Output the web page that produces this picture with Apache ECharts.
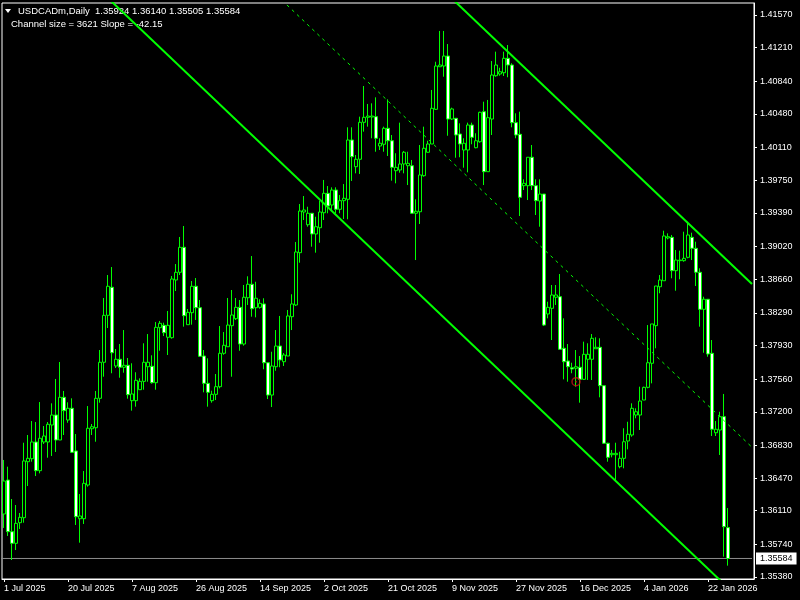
<!DOCTYPE html>
<html><head><meta charset="utf-8">
<script src="https://cdn.jsdelivr.net/npm/echarts@6/dist/echarts.min.js"></script>
<style>html,body{margin:0;padding:0;background:#000;}#c{width:800px;height:600px;}</style>
</head><body><div id="c"></div>
<script>
const opens = [1.36074,1.36448,1.35879,1.35751,1.35978,1.36033,1.36650,1.36683,1.36867,1.36551,1.36867,1.36867,1.37054,1.37164,1.36889,1.37359,1.37109,1.37238,1.36768,1.36022,1.36022,1.36393,1.37013,1.37024,1.37348,1.37745,1.38262,1.38571,1.37704,1.37778,1.37690,1.37712,1.37322,1.37322,1.37443,1.37535,1.37696,1.37701,1.37520,1.38126,1.38152,1.38020,1.38016,1.38651,1.38736,1.39011,1.38159,1.38291,1.38582,1.38346,1.37814,1.37513,1.37322,1.37392,1.37476,1.37844,1.37916,1.38148,1.38225,1.38350,1.37946,1.38456,1.38604,1.38346,1.38350,1.38387,1.37740,1.37384,1.37696,1.37924,1.37751,1.37814,1.38247,1.38376,1.38952,1.39400,1.39260,1.39386,1.39158,1.39227,1.39392,1.39606,1.39477,1.39642,1.39430,1.39525,1.39540,1.40193,1.39899,1.39981,1.40388,1.40443,1.40446,1.40450,1.40127,1.40146,1.40322,1.40185,1.39855,1.39863,1.39929,1.39910,1.39910,1.39386,1.39403,1.39800,1.40058,1.40149,1.40531,1.41000,1.41008,1.41118,1.40424,1.40432,1.40259,1.40083,1.40083,1.40358,1.40108,1.40174,1.40505,1.39844,1.40424,1.40901,1.40920,1.40934,1.41093,1.41019,1.40384,1.40256,1.39690,1.39690,1.40003,1.39690,1.39521,1.39598,1.38277,1.38339,1.38461,1.38467,1.37899,1.37759,1.37685,1.37679,1.37690,1.37557,1.37778,1.37778,1.37894,1.37910,1.37487,1.36853,1.36727,1.36727,1.36595,1.36687,1.36878,1.36944,1.37164,1.37164,1.37329,1.37469,1.37734,1.38148,1.38577,1.38643,1.39114,1.39121,1.38754,1.38864,1.38864,1.38901,1.39121,1.39000,1.38736,1.38328,1.38439,1.37844,1.36969,1.36999,1.37146,1.35924];
const highs = [1.36669,1.36595,1.36239,1.36173,1.36085,1.36859,1.36944,1.37098,1.37087,1.37307,1.37043,1.37087,1.37293,1.37561,1.37748,1.37429,1.37304,1.37348,1.36955,1.36294,1.36547,1.37263,1.37065,1.37429,1.37880,1.38453,1.38706,1.38794,1.37891,1.37946,1.38100,1.37792,1.37734,1.37635,1.37568,1.37954,1.38056,1.37822,1.38189,1.38200,1.38181,1.38310,1.38695,1.38827,1.39125,1.39246,1.38332,1.38640,1.38673,1.38431,1.37880,1.37789,1.37432,1.37616,1.38144,1.38078,1.38453,1.38541,1.38453,1.38431,1.38596,1.38692,1.38915,1.38632,1.38439,1.38450,1.37740,1.37861,1.38100,1.38255,1.37847,1.38321,1.38494,1.39070,1.39488,1.39576,1.39458,1.39386,1.39348,1.39525,1.39753,1.39686,1.39672,1.39672,1.39587,1.39708,1.40333,1.40333,1.40028,1.40450,1.40788,1.40590,1.40597,1.40663,1.40212,1.40340,1.40641,1.40248,1.40047,1.40384,1.40072,1.40064,1.39973,1.39540,1.40138,1.40340,1.40185,1.40744,1.41055,1.41394,1.41394,1.41250,1.40549,1.40432,1.40377,1.40212,1.40384,1.40384,1.40267,1.40505,1.40615,1.40634,1.41063,1.41166,1.40989,1.41166,1.41239,1.41038,1.40487,1.40505,1.39760,1.40003,1.40138,1.39760,1.39760,1.39598,1.38412,1.38596,1.38596,1.38717,1.38229,1.37946,1.37740,1.37880,1.37814,1.37972,1.37954,1.38056,1.38020,1.38009,1.37487,1.36859,1.36779,1.36859,1.36760,1.37018,1.37090,1.37293,1.37238,1.37476,1.37476,1.38155,1.38167,1.38585,1.38706,1.39194,1.39165,1.39147,1.38982,1.38974,1.39183,1.39293,1.39172,1.39073,1.38780,1.38467,1.38439,1.37990,1.37098,1.37200,1.37396,1.36140];
const lows = [1.35920,1.35832,1.35567,1.35677,1.35909,1.35978,1.36382,1.36650,1.36492,1.36522,1.36845,1.36694,1.36713,1.36757,1.36889,1.36944,1.37079,1.36746,1.35953,1.35758,1.35964,1.36375,1.36944,1.36870,1.37300,1.37586,1.38122,1.37624,1.37682,1.37575,1.37630,1.37344,1.37212,1.37256,1.37443,1.37443,1.37531,1.37509,1.37443,1.37872,1.38034,1.37825,1.38005,1.38530,1.38706,1.38137,1.38159,1.38159,1.38211,1.37803,1.37414,1.37256,1.37300,1.37329,1.37458,1.37828,1.37916,1.37586,1.38211,1.37872,1.37928,1.38376,1.38247,1.38240,1.38335,1.37668,1.37340,1.37252,1.37652,1.37690,1.37704,1.37814,1.38100,1.38365,1.38842,1.39312,1.39238,1.39018,1.38952,1.39062,1.39312,1.39386,1.39422,1.39386,1.39386,1.39323,1.39320,1.39742,1.39826,1.39819,1.40285,1.40340,1.40212,1.40064,1.40083,1.40064,1.40017,1.39745,1.39716,1.39833,1.39826,1.39697,1.39378,1.38871,1.39268,1.39789,1.40053,1.40149,1.40524,1.41000,1.40890,1.40240,1.40413,1.39998,1.40003,1.39888,1.39837,1.40146,1.40102,1.40163,1.39697,1.39844,1.40248,1.40890,1.40901,1.40898,1.40884,1.40333,1.40212,1.39356,1.39642,1.39532,1.39642,1.39367,1.39238,1.38144,1.38229,1.37990,1.38376,1.37888,1.37557,1.37531,1.37624,1.37476,1.37300,1.37550,1.37550,1.37550,1.37894,1.37359,1.36845,1.36650,1.36698,1.36430,1.36577,1.36577,1.36786,1.36925,1.37128,1.36999,1.37329,1.37458,1.37513,1.37899,1.38505,1.38643,1.39099,1.38670,1.38533,1.38659,1.38853,1.38890,1.38871,1.38585,1.38137,1.37850,1.37806,1.36933,1.36933,1.36724,1.35604,1.35505];
const closes = [1.36437,1.35879,1.35751,1.35971,1.36037,1.36658,1.36687,1.36867,1.36551,1.36908,1.36933,1.37062,1.37164,1.36889,1.37359,1.37212,1.37238,1.36753,1.36044,1.36052,1.36412,1.37018,1.37035,1.37348,1.37745,1.38262,1.38582,1.37850,1.37778,1.37690,1.37712,1.37388,1.37396,1.37546,1.37535,1.37745,1.37745,1.37520,1.38130,1.38174,1.38071,1.38152,1.38662,1.38736,1.39011,1.38258,1.38295,1.38582,1.38346,1.37811,1.37513,1.37414,1.37392,1.37476,1.37844,1.37932,1.38155,1.38266,1.38350,1.37946,1.38461,1.38604,1.38335,1.38450,1.38394,1.37740,1.37384,1.37704,1.37924,1.37770,1.37825,1.38255,1.38387,1.38960,1.39411,1.39422,1.39386,1.39158,1.39238,1.39400,1.39606,1.39466,1.39642,1.39430,1.39525,1.39551,1.40193,1.40009,1.39981,1.40388,1.40443,1.40457,1.40457,1.40212,1.40157,1.40322,1.40185,1.39892,1.39892,1.39929,1.40058,1.39936,1.39386,1.39408,1.39808,1.40102,1.40149,1.40542,1.41008,1.41019,1.41118,1.40424,1.40535,1.40248,1.40149,1.40157,1.40358,1.40223,1.40185,1.40498,1.39844,1.40439,1.40909,1.41019,1.40945,1.41093,1.41019,1.40384,1.40248,1.39562,1.39716,1.40003,1.39690,1.39525,1.39598,1.38155,1.38350,1.38486,1.38486,1.37888,1.37751,1.37696,1.37671,1.37696,1.37557,1.37833,1.37833,1.38009,1.37910,1.37487,1.36853,1.36698,1.36742,1.36742,1.36687,1.36870,1.36952,1.37238,1.37200,1.37318,1.37469,1.37740,1.38167,1.38585,1.38651,1.39136,1.39128,1.38754,1.38871,1.38871,1.38890,1.39147,1.39000,1.38736,1.38328,1.38439,1.37836,1.37007,1.37007,1.37146,1.35934,1.35584];
const yTicks = [1.41570,1.41210,1.40840,1.40480,1.40110,1.39750,1.39390,1.39020,1.38660,1.38290,1.37930,1.37560,1.37200,1.36830,1.36470,1.36110,1.35740,1.35380];
const yMin = 1.35358, yMax = 1.41702;
const lastPrice = 1.35584;
const channelMid = [[20, 1.43806], [187, 1.36809]];
const channelHalf = 0.01799;
const markerPoint = [143, 1.37531];
const headerLine1 = 'USDCADm,Daily  1.35924 1.36140 1.35505 1.35584';
const headerLine2 = 'Channel size = 3621 Slope = -42.15';
const totalSlots = 188;

const months = ['Jan','Feb','Mar','Apr','May','Jun','Jul','Aug','Sep','Oct','Nov','Dec'];
const categories = [];
let d = Date.UTC(2025, 6, 1);
while (categories.length < totalSlots) {
  const dt = new Date(d);
  if (dt.getUTCDay() !== 6) categories.push(dt.getUTCDate() + ' ' + months[dt.getUTCMonth()] + ' ' + dt.getUTCFullYear());
  d += 86400000;
}
const candles = opens.map((o, i) => [o, closes[i], lows[i], highs[i]]);
const shift = (arr, k) => arr.map(p => [p[0], +(p[1] + k).toFixed(5)]);
const FONT = '"Liberation Sans", Arial, sans-serif';
const G = '#00ff00';

const chart = echarts.init(document.getElementById('c'), null, {renderer: 'canvas'});
chart.setOption({
  animation: false,
  backgroundColor: '#000',
  textStyle: {fontFamily: FONT},
  grid: {left: 2, top: 3, width: 752, height: 576, show: true, borderColor: '#ffffff', borderWidth: 1, backgroundColor: '#000'},
  xAxis: {
    type: 'category', data: categories, boundaryGap: true,
    axisLine: {lineStyle: {color: '#ffffff', width: 1}},
    axisTick: {show: true, interval: 15, alignWithLabel: true, length: 3, lineStyle: {color: '#ffffff'}},
    axisLabel: {interval: 15, align: 'left', color: '#ffffff', fontSize: 9, margin: 5, fontFamily: FONT},
    splitLine: {show: false}
  },
  yAxis: {
    type: 'value', position: 'right', min: yMin, max: yMax, scale: true,
    axisLine: {show: true, lineStyle: {color: '#ffffff', width: 1}},
    axisTick: {show: true, length: 3, customValues: yTicks, lineStyle: {color: '#ffffff'}},
    axisLabel: {customValues: yTicks, color: '#ffffff', fontSize: 9, margin: 6, fontFamily: FONT, formatter: v => v.toFixed(5)},
    splitLine: {show: false}
  },
  series: [
    {
      type: 'candlestick', data: candles, barWidth: 3,
      itemStyle: {color: '#000000', color0: '#ffffff', borderColor: G, borderColor0: G, borderColorDoji: G, borderWidth: 1},
      z: 2
    },
    {
      type: 'line', data: [[-1, lastPrice], [totalSlots - 1, lastPrice]], symbol: 'none', silent: true, clip: true,
      lineStyle: {color: '#8c8c8c', width: 1}, z: 1,
      endLabel: {show: true, distance: 4, formatter: () => lastPrice.toFixed(5), color: '#000', backgroundColor: '#fff', fontSize: 9, padding: [2, 4, 1, 4], fontFamily: FONT}
    },
    {type: 'line', data: shift(channelMid, channelHalf), symbol: 'none', clip: true, lineStyle: {color: G, width: 2}, z: 3, silent: true},
    {type: 'line', data: shift(channelMid, -channelHalf), symbol: 'none', clip: true, lineStyle: {color: G, width: 2}, z: 3, silent: true},
    {type: 'line', data: channelMid, symbol: 'none', clip: true, lineStyle: {color: G, width: 1, type: [3, 4]}, z: 3, silent: true},
    {type: 'scatter', data: [markerPoint], symbol: 'circle', symbolSize: 8, itemStyle: {color: 'rgba(0,0,0,0)', borderColor: '#c81414', borderWidth: 1.5}, z: 4, silent: true},
    {type: 'scatter', data: [markerPoint], symbol: 'circle', symbolSize: 2, itemStyle: {color: '#c81414'}, z: 4, silent: true}
  ],
  graphic: [
    {type: 'polygon', shape: {points: [[5, 9], [11, 9], [8, 13]]}, style: {fill: '#ffffff'}},
    {type: 'text', x: 18, y: 11.5, style: {text: headerLine1, fill: '#ffffff', fontSize: 9.5, fontFamily: FONT, verticalAlign: 'middle'}},
    {type: 'text', x: 11, y: 24, style: {text: headerLine2, fill: '#ffffff', fontSize: 9.5, fontFamily: FONT, verticalAlign: 'middle'}}
  ]
});
</script></body></html>
